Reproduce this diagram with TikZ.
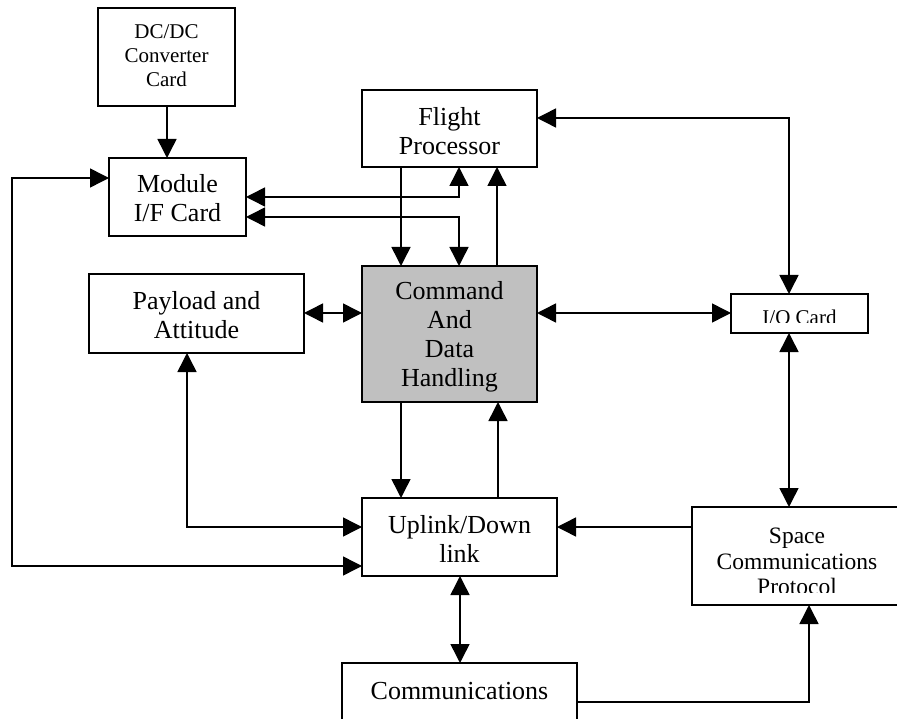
\documentclass[tikz,border=0pt]{standalone}
\usepackage{fontspec}
\setmainfont{Liberation Serif}
\usetikzlibrary{arrows.meta}
\definecolor{cdhgray}{RGB}{192,192,192}
\begin{document}
\begin{tikzpicture}[x=1pt,y=-1pt,
  box/.style={draw, line width=1.6pt, inner sep=0pt, outer sep=0pt},
  lbl/.style={align=center, inner sep=0pt, font=\fontsize{26}{29}\selectfont},
  small/.style={font=\fontsize{21}{24}\selectfont},
  mid/.style={font=\fontsize{23.5}{25.5}\selectfont},
  link/.style={line width=1.5pt, -{Triangle[length=19pt,width=19pt]}},
  dlink/.style={line width=1.5pt, {Triangle[length=19pt,width=19pt]}-{Triangle[length=19pt,width=19pt]}},
]
\useasboundingbox (0,0) rectangle (897,719);
\clip (0,0) rectangle (897,719);

% blocks
\node[box, minimum width=137pt, minimum height=98pt] (dc)  at (166.5,57) {};
\node[box, minimum width=137pt, minimum height=78pt] (mod) at (177.5,197) {};
\node[box, minimum width=175pt, minimum height=77pt] (fp)  at (449.5,128.5) {};
\node[box, fill=cdhgray, minimum width=175pt, minimum height=136pt] (cdh) at (449.5,334) {};
\node[box, minimum width=215pt, minimum height=79pt] (pay) at (196.5,313.5) {};
\node[box, minimum width=137pt, minimum height=39pt] (io)  at (799.5,313.5) {};
\node[box, minimum width=195pt, minimum height=78pt] (up)  at (459.5,537) {};
\node[box, minimum width=210pt, minimum height=98pt] (scp) at (797,556) {};
\node[box, minimum width=235pt, minimum height=97pt] (com) at (459.5,711.5) {};

% labels
\node[lbl, small] (dct) at (166.5,56) {DC/DC\\Converter\\Card};
\node[lbl] (modt) at (177.5,198.5) {Module\\I/F Card};
\node[lbl] (fpt)  at (449.5,131.5) {Flight\\Processor};
\node[lbl] (cdht) at (449.5,337) {Command\\And\\Data\\Handling};
\node[lbl] (payt) at (196.5,315.5) {Payload and\\Attitude};
\node[lbl] (upt)  at (459.5,538.5) {Uplink/Down\\link};
\node[lbl, anchor=base] (comt) at (459.5,699) {Communications};
\begin{scope}
  \clip (731,294) rectangle (868,322.5);
  \node[lbl, small, anchor=base] (iot) at (799.5,324.5) {I/O Card};
\end{scope}
\begin{scope}
  \clip (692,507) rectangle (897,592.5);
  \node[lbl, mid] (scpt) at (797,561.5) {Space\\Communications\\Protocol};
\end{scope}

% connectors
\draw[link]  (dc.south -| 167,0) -- (mod.north -| 167,0);
\draw[dlink] (mod.west |- 0,178) -- (12,178) -- (12,566) -- (up.west |- 0,566);
\draw[dlink] (pay.south -| 187,0) |- (up.west |- 0,527);
\draw[dlink] (pay.east |- 0,313) -- (cdh.west |- 0,313);
\draw[dlink] (mod.east |- 0,197) -| (fp.south -| 459,0);
\draw[dlink] (mod.east |- 0,217) -| (cdh.north -| 459,0);
\draw[link]  (fp.south -| 401,0) -- (cdh.north -| 401,0);
\draw[link]  (cdh.north -| 497,0) -- (fp.south -| 497,0);
\draw[dlink] (fp.east |- 0,118) -| (io.north -| 789,0);
\draw[dlink] (cdh.east |- 0,313) -- (io.west |- 0,313);
\draw[dlink] (io.south -| 789,0) -- (scp.north -| 789,0);
\draw[link]  (cdh.south -| 401,0) -- (up.north -| 401,0);
\draw[link]  (up.north -| 498,0) -- (cdh.south -| 498,0);
\draw[link]  (scp.west |- 0,527) -- (up.east |- 0,527);
\draw[dlink] (up.south -| 460,0) -- (com.north -| 460,0);
\draw[link]  (com.east |- 0,702) -| (scp.south -| 809,0);
\end{tikzpicture}
\end{document}
